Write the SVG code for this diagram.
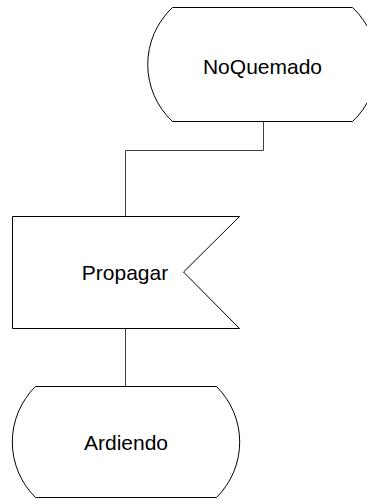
<svg xmlns="http://www.w3.org/2000/svg" width="367" height="500" viewBox="0 0 367 500">
  <style>
    .shape { fill: #ffffff; stroke: #000000; stroke-width: 1; }
    .link { fill: none; stroke: #404040; stroke-width: 1; }
    .label { font-family: "Liberation Sans", Arial, sans-serif; font-size: 21px; fill: #000000; text-anchor: middle; dominant-baseline: central; }
  </style>
  <rect width="367" height="500" fill="#ffffff"/>

  <g id="connectors">
    <polyline class="link" points="263.5,121 263.5,150.5 125.5,150.5 125.5,216"/>
    <line class="link" x1="125.5" y1="328" x2="125.5" y2="386"/>
  </g>

  <g id="node-noquemado">
    <path class="shape" d="M172.5,7.5 L352.5,7.5 A78,78 0 0 1 352.5,121.5 L172.5,121.5 A78,78 0 0 1 172.5,7.5 Z"/>
    <text class="label" x="262.5" y="66">NoQuemado</text>
  </g>

  <g id="node-propagar">
    <path class="shape" d="M12.5,216.5 L239.5,216.5 L183.5,272 L239.5,328.5 L12.5,328.5 Z"/>
    <text class="label" x="125" y="272">Propagar</text>
  </g>

  <g id="node-ardiendo">
    <path class="shape" d="M35.5,386.5 L216.5,386.5 A78,78 0 0 1 216.5,497.5 L35.5,497.5 A78,78 0 0 1 35.5,386.5 Z"/>
    <text class="label" x="126" y="442">Ardiendo</text>
  </g>
</svg>
